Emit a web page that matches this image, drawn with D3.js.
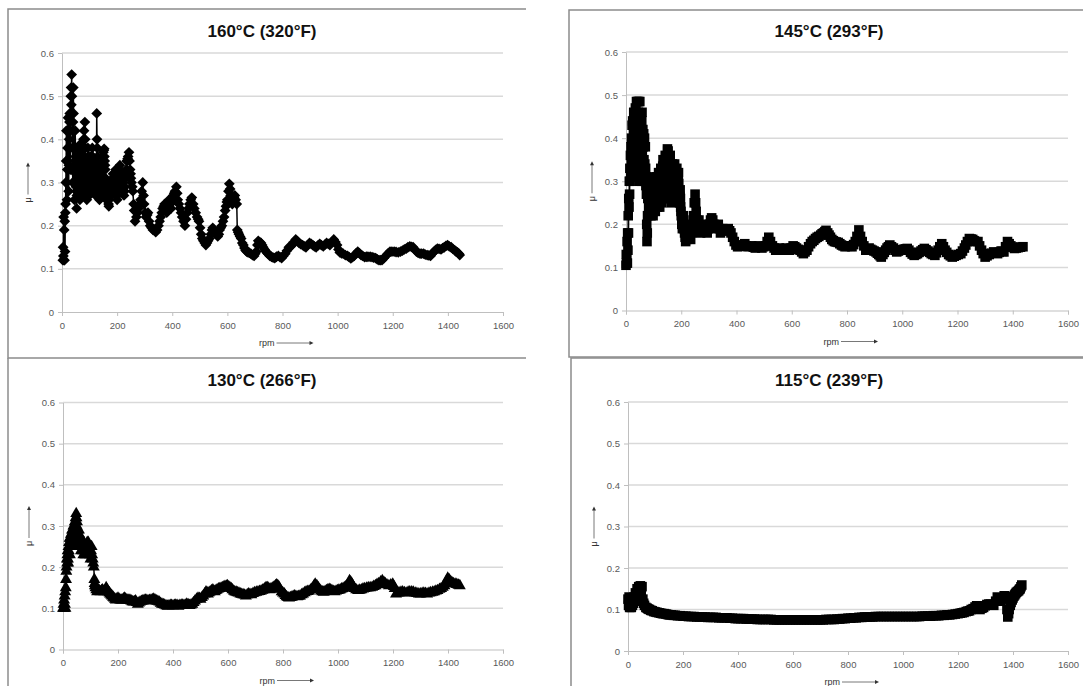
<!DOCTYPE html>
<html>
<head>
<meta charset="utf-8">
<script src="https://cdn.jsdelivr.net/npm/d3@7"></script>
<style>
  body { margin: 0; background: #fff; }
</style>
</head>
<body>
<div id="chart"></div>
<script>
// axis ticks shared by all four panels
const xTicks = [0, 200, 400, 600, 800, 1000, 1200, 1400, 1600];
const yTicks = [0, 0.1, 0.2, 0.3, 0.4, 0.5, 0.6];
const titles = ['160°C (320°F)', '145°C (293°F)', '130°C (266°F)', '115°C (239°F)'];

// [rpm, mu]
const mu160 = [
  [3,0.12],[4,0.15],[5,0.13],[6,0.22],[7,0.12],[8,0.19],[9,0.12],[10,0.21],[11,0.14],[12,0.23],
  [13,0.25],[14,0.30],[15,0.35],[16,0.42],[17,0.30],[18,0.26],[19,0.33],[20,0.38],[21,0.42],[22,0.45],
  [23,0.35],[24,0.28],[25,0.34],[26,0.40],[27,0.44],[28,0.46],[29,0.38],[30,0.33],[31,0.42],[32,0.50],
  [33,0.52],[34,0.48],[35,0.55],[36,0.50],[37,0.46],[38,0.38],[39,0.30],[40,0.44],[41,0.52],[42,0.46],
  [43,0.38],[44,0.30],[45,0.26],[46,0.34],[47,0.38],[48,0.42],[49,0.36],[50,0.32],[51,0.29],[52,0.28],
  [53,0.24],[54,0.27],[55,0.32],[56,0.38],[57,0.35],[58,0.33],[59,0.28],[60,0.31],[61,0.34],[62,0.36],
  [63,0.33],[64,0.30],[65,0.26],[66,0.29],[67,0.33],[68,0.39],[69,0.37],[70,0.35],[71,0.32],[72,0.30],
  [73,0.27],[74,0.34],[75,0.36],[76,0.38],[77,0.31],[78,0.40],[79,0.28],[80,0.42],[81,0.36],[82,0.30],
  [83,0.44],[84,0.40],[85,0.38],[86,0.34],[87,0.32],[88,0.30],[89,0.28],[90,0.26],[91,0.29],[92,0.32],
  [93,0.35],[94,0.38],[95,0.36],[96,0.34],[97,0.32],[98,0.30],[99,0.27],[100,0.33],[101,0.35],[102,0.36],
  [103,0.34],[104,0.32],[105,0.30],[106,0.28],[107,0.31],[108,0.33],[109,0.36],[110,0.38],[111,0.36],[112,0.34],
  [113,0.32],[114,0.31],[115,0.29],[116,0.33],[117,0.34],[118,0.35],[119,0.33],[120,0.31],[121,0.29],[122,0.27],
  [123,0.28],[124,0.30],[125,0.33],[126,0.46],[127,0.40],[128,0.38],[129,0.36],[130,0.34],[131,0.32],[132,0.30],
  [133,0.29],[134,0.28],[135,0.27],[136,0.26],[137,0.28],[138,0.30],[139,0.32],[140,0.34],[141,0.33],[142,0.31],
  [143,0.30],[144,0.29],[145,0.28],[146,0.31],[147,0.33],[148,0.35],[149,0.36],[150,0.37],[152,0.375],[153,0.378],
  [154,0.36],[155,0.35],[156,0.34],[157,0.33],[158,0.31],[159,0.29],[160,0.275],[161,0.26],[162,0.265],[163,0.27],
  [164,0.28],[165,0.29],[166,0.28],[167,0.27],[168,0.26],[169,0.25],[170,0.245],[171,0.26],[172,0.27],[173,0.285],
  [174,0.29],[175,0.30],[177,0.29],[178,0.285],[179,0.28],[180,0.27],[181,0.28],[182,0.29],[183,0.30],[184,0.31],
  [185,0.32],[186,0.31],[187,0.305],[188,0.30],[189,0.29],[190,0.28],[191,0.29],[192,0.30],[193,0.31],[194,0.32],
  [195,0.33],[196,0.31],[197,0.30],[198,0.29],[199,0.27],[200,0.26],[201,0.27],[203,0.28],[204,0.29],[205,0.30],
  [207,0.31],[208,0.32],[209,0.33],[210,0.34],[212,0.32],[213,0.31],[215,0.29],[217,0.30],[218,0.31],[220,0.32],
  [222,0.30],[223,0.29],[225,0.27],[227,0.28],[228,0.29],[230,0.31],[232,0.32],[233,0.33],[235,0.35],[237,0.35],
  [238,0.355],[240,0.36],[243,0.37],[245,0.35],[247,0.33],[249,0.32],[250,0.31],[252,0.30],[255,0.29],[257,0.28],
  [260,0.25],[262,0.235],[265,0.21],[270,0.22],[274,0.23],[278,0.24],[282,0.25],[285,0.26],
  [289,0.28],[293,0.30],[296,0.27],[298,0.25],[302,0.23],[305,0.22],[309,0.225],[312,0.23],[316,0.21],[320,0.20],
  [325,0.195],[330,0.19],[335,0.19],[340,0.185],[345,0.19],[350,0.20],[354,0.21],[358,0.22],[362,0.23],[365,0.24],
  [369,0.245],[372,0.25],[376,0.24],[380,0.23],[384,0.245],[388,0.26],[392,0.25],[396,0.24],[400,0.255],[404,0.27],
  [407,0.275],[410,0.28],[415,0.29],[418,0.275],[420,0.26],[424,0.25],[428,0.24],[432,0.23],[436,0.22],[441,0.21],
  [446,0.20],[450,0.215],[455,0.23],[459,0.24],[462,0.25],[467,0.26],[471,0.265],[476,0.25],[480,0.24],[485,0.23],
  [490,0.22],[494,0.215],[497,0.21],[501,0.195],[505,0.18],[509,0.17],[513,0.165],[518,0.16],[522,0.155],[526,0.16],
  [530,0.165],[535,0.17],[540,0.18],[544,0.19],[547,0.195],[551,0.19],[555,0.185],[560,0.18],[565,0.175],[569,0.18],
  [572,0.19],[576,0.195],[580,0.20],[584,0.21],[588,0.22],[592,0.235],[595,0.245],[598,0.255],[600,0.26],[604,0.28],
  [607,0.297],[610,0.285],[612,0.27],[615,0.26],[618,0.25],[621,0.255],[624,0.265],[627,0.27],[630,0.26],[634,0.25],
  [636,0.19],[639,0.185],[642,0.18],[646,0.175],[650,0.17],[654,0.16],[658,0.155],[662,0.148],[666,0.143],[670,0.14],
  [675,0.138],[680,0.137],[685,0.135],[691,0.132],[697,0.13],[701,0.135],[705,0.14],[709,0.155],[712,0.165],[717,0.162],
  [722,0.16],[726,0.155],[730,0.15],[735,0.145],[740,0.14],[744,0.137],[747,0.135],[754,0.13],[760,0.128],[766,0.126],
  [772,0.125],[778,0.128],[785,0.13],[791,0.127],[797,0.125],[803,0.13],[810,0.135],[816,0.142],[823,0.15],[829,0.152],
  [835,0.155],[841,0.162],[848,0.168],[854,0.164],[860,0.16],[866,0.157],[873,0.155],[879,0.152],[885,0.15],[891,0.155],
  [898,0.16],[904,0.158],[910,0.155],[916,0.152],[922,0.15],[928,0.154],[935,0.158],[941,0.155],[948,0.152],[954,0.156],
  [960,0.16],[966,0.158],[972,0.155],[979,0.162],[986,0.168],[992,0.162],[998,0.155],[1003,0.145],[1008,0.138],[1014,0.136],
  [1020,0.135],[1028,0.132],[1036,0.13],[1042,0.127],[1048,0.124],[1054,0.127],[1060,0.13],[1066,0.135],[1073,0.14],[1079,0.136],
  [1085,0.132],[1091,0.13],[1098,0.127],[1104,0.128],[1110,0.128],[1118,0.128],[1125,0.127],[1131,0.126],[1138,0.125],[1144,0.122],
  [1150,0.12],[1155,0.12],[1161,0.12],[1168,0.125],[1175,0.13],[1182,0.135],[1190,0.14],[1197,0.14],[1205,0.14],[1212,0.139],
  [1220,0.138],[1228,0.14],[1235,0.142],[1242,0.145],[1249,0.147],[1255,0.15],[1262,0.152],[1268,0.151],[1274,0.15],[1280,0.145],
  [1286,0.14],[1292,0.137],[1299,0.135],[1305,0.135],[1312,0.135],[1318,0.133],[1325,0.132],[1331,0.131],[1337,0.13],[1343,0.135],
  [1350,0.14],[1356,0.144],[1362,0.147],[1368,0.146],[1375,0.145],[1381,0.148],[1387,0.15],[1393,0.153],[1399,0.155],[1405,0.152],
  [1412,0.15],[1418,0.146],[1425,0.143],[1430,0.14],[1435,0.138],[1440,0.135],[1443,0.132]
];

const mu145 = [
  [0,0.105],[1,0.13],[2,0.11],[3,0.12],[4,0.16],[5,0.11],[6,0.18],[7,0.14],[8,0.22],[9,0.18],
  [10,0.26],[11,0.24],[12,0.30],[13,0.27],[14,0.33],[15,0.30],[16,0.36],[17,0.32],[18,0.38],[19,0.34],
  [20,0.40],[21,0.36],[22,0.43],[23,0.35],[24,0.44],[25,0.38],[26,0.33],[27,0.42],[28,0.46],[29,0.36],
  [30,0.31],[31,0.44],[32,0.40],[33,0.34],[34,0.47],[35,0.41],[36,0.32],[37,0.45],[38,0.485],[39,0.38],
  [40,0.31],[41,0.44],[42,0.485],[43,0.40],[44,0.33],[45,0.46],[46,0.485],[47,0.37],[48,0.30],[49,0.42],
  [50,0.485],[51,0.39],[52,0.31],[53,0.45],[54,0.40],[55,0.33],[56,0.30],[57,0.44],[58,0.46],[59,0.36],
  [60,0.31],[61,0.42],[62,0.38],[63,0.32],[64,0.41],[65,0.35],[66,0.30],[67,0.40],[68,0.34],[69,0.30],
  [70,0.38],[71,0.33],[72,0.29],[73,0.31],[74,0.27],[75,0.20],[76,0.16],[77,0.18],[78,0.22],[79,0.26],
  [80,0.29],[81,0.265],[82,0.24],[83,0.26],[84,0.28],[85,0.295],[86,0.31],[87,0.28],[88,0.25],[89,0.235],
  [90,0.22],[91,0.25],[92,0.28],[93,0.29],[94,0.30],[95,0.27],[96,0.24],[97,0.23],[98,0.22],[99,0.245],
  [100,0.27],[101,0.285],[102,0.30],[103,0.275],[104,0.25],[105,0.24],[106,0.23],[107,0.26],[108,0.29],[109,0.30],
  [110,0.31],[111,0.285],[112,0.26],[113,0.25],[114,0.24],[115,0.27],[116,0.30],[117,0.31],[118,0.32],[119,0.295],
  [120,0.27],[121,0.255],[122,0.24],[123,0.275],[124,0.31],[125,0.32],[126,0.33],[127,0.305],[128,0.28],[129,0.265],
  [130,0.25],[131,0.285],[132,0.32],[133,0.335],[134,0.35],[135,0.32],[136,0.29],[137,0.275],[138,0.26],[139,0.295],
  [140,0.33],[141,0.345],[142,0.36],[143,0.33],[144,0.30],[145,0.28],[146,0.26],[147,0.30],[148,0.34],[149,0.355],
  [150,0.375],[151,0.37],[152,0.37],[153,0.335],[154,0.30],[155,0.28],[156,0.26],[157,0.295],[158,0.33],[159,0.345],
  [160,0.36],[161,0.325],[162,0.29],[163,0.27],[164,0.25],[165,0.28],[166,0.31],[167,0.325],[168,0.34],[169,0.31],
  [170,0.28],[171,0.27],[172,0.26],[173,0.29],[174,0.32],[175,0.33],[176,0.34],[177,0.315],[178,0.29],[179,0.28],
  [180,0.27],[181,0.29],[182,0.31],[183,0.32],[184,0.33],[185,0.305],[186,0.28],[187,0.29],[188,0.30],[189,0.31],
  [190,0.32],[191,0.295],[192,0.27],[193,0.26],[194,0.25],[195,0.265],[196,0.28],[197,0.26],[198,0.24],[199,0.23],
  [200,0.22],[202,0.20],[204,0.19],[206,0.21],[208,0.22],[210,0.19],[212,0.18],[214,0.17],[216,0.16],[219,0.165],
  [222,0.17],[225,0.19],[228,0.20],[231,0.18],[234,0.165],[237,0.18],[240,0.19],[243,0.21],[245,0.22],[247,0.25],
  [250,0.27],[252,0.25],[254,0.23],[256,0.21],[258,0.19],[261,0.20],[264,0.21],[267,0.195],[270,0.18],[274,0.19],
  [278,0.20],[282,0.195],[286,0.19],[290,0.185],[294,0.18],[298,0.19],[302,0.20],[306,0.21],[310,0.215],[314,0.21],
  [318,0.20],[322,0.195],[326,0.19],[330,0.195],[334,0.20],[338,0.19],[342,0.18],[346,0.185],[350,0.19],[355,0.188],
  [360,0.185],[365,0.188],[370,0.19],[375,0.185],[380,0.18],[386,0.17],[392,0.16],[398,0.152],[404,0.148],[410,0.149],
  [416,0.15],[423,0.152],[430,0.155],[436,0.15],[442,0.148],[448,0.149],[455,0.15],[461,0.147],[468,0.145],[474,0.148],
  [480,0.15],[486,0.147],[492,0.145],[498,0.148],[505,0.15],[511,0.16],[517,0.17],[523,0.16],[530,0.15],[536,0.145],
  [542,0.14],[548,0.143],[555,0.145],[561,0.142],[568,0.14],[574,0.143],[580,0.145],[586,0.142],[592,0.14],[598,0.145],
  [605,0.15],[611,0.148],[617,0.145],[623,0.142],[630,0.14],[636,0.136],[642,0.132],[648,0.136],[655,0.14],[661,0.148],
  [668,0.155],[674,0.16],[680,0.163],[686,0.167],[692,0.17],[698,0.172],[705,0.175],[710,0.178],[715,0.18],[720,0.183],
  [724,0.186],[730,0.18],[735,0.175],[740,0.17],[745,0.165],[750,0.162],[755,0.16],[761,0.159],[768,0.158],[774,0.155],
  [780,0.152],[786,0.15],[793,0.148],[800,0.149],[806,0.15],[812,0.149],[818,0.148],[824,0.153],[830,0.16],[836,0.172],
  [843,0.187],[849,0.172],[855,0.16],[861,0.15],[868,0.14],[874,0.143],[880,0.145],[886,0.142],[892,0.14],[898,0.138],
  [905,0.136],[910,0.133],[915,0.13],[920,0.127],[924,0.124],[930,0.13],[935,0.135],[940,0.14],[945,0.145],[950,0.148],
  [955,0.152],[961,0.148],[968,0.145],[974,0.14],[980,0.136],[986,0.138],[992,0.14],[998,0.141],[1005,0.142],[1011,0.143],
  [1018,0.144],[1024,0.14],[1030,0.135],[1036,0.131],[1043,0.128],[1049,0.13],[1055,0.132],[1061,0.135],[1068,0.138],[1074,0.141],
  [1080,0.144],[1086,0.141],[1093,0.138],[1099,0.135],[1105,0.132],[1111,0.13],[1118,0.128],[1124,0.134],[1130,0.14],[1136,0.148],
  [1143,0.155],[1149,0.148],[1155,0.14],[1161,0.135],[1168,0.13],[1174,0.127],[1181,0.124],[1188,0.126],[1195,0.128],[1203,0.13],
  [1212,0.132],[1218,0.138],[1225,0.145],[1230,0.152],[1236,0.16],[1243,0.167],[1249,0.166],[1255,0.165],[1260,0.162],[1265,0.16],
  [1274,0.16],[1280,0.15],[1287,0.14],[1293,0.132],[1300,0.124],[1307,0.127],[1315,0.13],[1323,0.133],[1331,0.136],[1338,0.134],
  [1345,0.132],[1351,0.135],[1358,0.138],[1363,0.137],[1368,0.136],[1374,0.148],[1381,0.16],[1387,0.155],[1393,0.15],[1400,0.147],
  [1406,0.144],[1413,0.145],[1420,0.146],[1428,0.147],[1437,0.148]
];

const mu130 = [
  [0,0.10],[2,0.11],[3,0.10],[4,0.12],[5,0.10],[6,0.13],[7,0.11],[8,0.14],[9,0.10],[10,0.15],
  [11,0.17],[12,0.19],[13,0.20],[14,0.22],[15,0.21],[16,0.23],[17,0.24],[18,0.22],[19,0.21],[20,0.25],
  [21,0.24],[22,0.26],[23,0.25],[24,0.27],[25,0.23],[26,0.26],[27,0.27],[28,0.25],[29,0.28],[30,0.26],
  [31,0.28],[32,0.27],[33,0.29],[34,0.26],[35,0.29],[36,0.28],[37,0.27],[38,0.30],[39,0.25],[40,0.29],
  [41,0.30],[42,0.28],[43,0.31],[44,0.29],[45,0.31],[46,0.32],[47,0.30],[48,0.33],[49,0.32],[50,0.30],
  [51,0.31],[52,0.27],[53,0.26],[54,0.29],[55,0.28],[56,0.25],[57,0.27],[58,0.29],[59,0.28],[60,0.25],
  [62,0.27],[64,0.26],[65,0.24],[66,0.27],[68,0.26],[70,0.25],[72,0.24],[74,0.23],[76,0.26],[78,0.24],
  [80,0.23],[82,0.25],[84,0.23],[86,0.25],[88,0.26],[90,0.25],[92,0.26],[94,0.24],[96,0.25],[98,0.23],
  [100,0.22],[102,0.24],[104,0.25],[106,0.23],[108,0.22],[110,0.21],[112,0.20],[114,0.17],[115,0.16],[116,0.155],
  [118,0.15],[121,0.145],[124,0.14],[127,0.142],[130,0.145],[133,0.142],[136,0.14],[140,0.143],[143,0.145],[147,0.142],
  [150,0.14],[154,0.145],[157,0.15],[161,0.145],[164,0.14],[168,0.138],[171,0.135],[175,0.132],[178,0.13],[182,0.127],
  [185,0.125],[189,0.122],[192,0.12],[196,0.123],[200,0.125],[204,0.122],[208,0.12],[212,0.12],[216,0.12],[220,0.123],
  [224,0.125],[228,0.122],[232,0.12],[236,0.12],[240,0.12],[244,0.119],[248,0.118],[252,0.116],[256,0.115],[260,0.116],
  [264,0.118],[268,0.114],[272,0.11],[276,0.113],[280,0.115],[285,0.117],[290,0.118],[295,0.119],[300,0.12],[305,0.119],
  [310,0.118],[315,0.119],[320,0.12],[325,0.121],[330,0.122],[335,0.12],[340,0.118],[345,0.117],[350,0.115],[355,0.112],
  [360,0.11],[365,0.109],[370,0.108],[375,0.106],[380,0.105],[385,0.106],[390,0.107],[395,0.107],[400,0.106],[405,0.107],
  [410,0.108],[415,0.107],[420,0.105],[425,0.107],[430,0.108],[435,0.108],[440,0.107],[445,0.108],[450,0.11],[455,0.109],
  [460,0.107],[465,0.108],[470,0.11],[475,0.114],[480,0.118],[486,0.122],[491,0.125],[496,0.124],[500,0.122],[505,0.126],
  [510,0.13],[515,0.135],[520,0.14],[524,0.138],[527,0.135],[531,0.138],[535,0.14],[540,0.143],[545,0.145],[549,0.142],
  [552,0.14],[556,0.143],[560,0.145],[565,0.147],[570,0.148],[575,0.149],[580,0.15],[585,0.152],[589,0.153],[594,0.154],
  [598,0.155],[603,0.152],[607,0.15],[612,0.148],[616,0.145],[621,0.142],[625,0.14],[630,0.139],[635,0.138],[640,0.137],
  [645,0.135],[650,0.134],[655,0.133],[660,0.132],[665,0.13],[670,0.133],[675,0.135],[680,0.134],[685,0.133],[691,0.136],
  [697,0.138],[703,0.139],[709,0.14],[715,0.141],[720,0.142],[725,0.144],[730,0.145],[734,0.148],[738,0.15],[742,0.15],
  [745,0.15],[749,0.147],[752,0.145],[756,0.147],[760,0.148],[764,0.15],[768,0.152],[773,0.155],[777,0.157],[781,0.155],
  [785,0.152],[790,0.146],[795,0.14],[800,0.137],[805,0.135],[809,0.131],[813,0.128],[818,0.126],[822,0.125],[827,0.126],
  [832,0.127],[837,0.129],[842,0.13],[847,0.129],[852,0.128],[857,0.129],[862,0.13],[868,0.133],[873,0.135],[879,0.138],
  [884,0.14],[890,0.141],[895,0.142],[901,0.145],[906,0.148],[912,0.154],[917,0.159],[923,0.155],[928,0.15],[933,0.146],
  [938,0.142],[943,0.14],[948,0.139],[953,0.141],[958,0.143],[963,0.145],[968,0.146],[973,0.145],[978,0.143],[983,0.141],
  [988,0.14],[993,0.142],[998,0.143],[1003,0.144],[1008,0.145],[1013,0.147],[1018,0.148],[1023,0.15],[1028,0.152],[1035,0.158],
  [1042,0.167],[1046,0.164],[1050,0.16],[1055,0.154],[1060,0.148],[1066,0.145],[1073,0.143],[1079,0.144],[1085,0.145],[1091,0.147],
  [1097,0.148],[1104,0.149],[1110,0.15],[1117,0.15],[1124,0.151],[1130,0.153],[1136,0.155],[1142,0.158],[1148,0.16],[1155,0.164],
  [1161,0.167],[1167,0.163],[1172,0.16],[1178,0.157],[1185,0.155],[1192,0.157],[1199,0.159],[1203,0.153],[1206,0.148],[1211,0.135],
  [1217,0.137],[1222,0.138],[1229,0.139],[1235,0.14],[1242,0.138],[1248,0.137],[1255,0.139],[1261,0.14],[1268,0.14],[1274,0.139],
  [1281,0.137],[1287,0.136],[1294,0.135],[1300,0.135],[1306,0.136],[1312,0.137],[1318,0.136],[1324,0.135],[1331,0.137],[1337,0.138],
  [1344,0.139],[1350,0.14],[1356,0.142],[1362,0.143],[1369,0.146],[1375,0.148],[1381,0.151],[1387,0.155],[1393,0.164],[1399,0.173],
  [1405,0.169],[1410,0.165],[1415,0.162],[1420,0.16],[1426,0.159],[1432,0.158],[1438,0.156],[1443,0.155]
];

const mu115 = [
  [0,0.125],[2,0.11],[4,0.13],[6,0.105],[8,0.12],[10,0.115],[12,0.105],[14,0.125],[16,0.11],[18,0.12],
  [20,0.115],[22,0.13],[24,0.12],[27,0.14],[30,0.125],[33,0.15],[36,0.135],[39,0.155],[42,0.13],[45,0.157],
  [48,0.14],[51,0.155],[54,0.125],[57,0.115],[60,0.11],[65,0.105],[70,0.103],[74,0.101],[78,0.10],[83,0.098],
  [88,0.097],[94,0.095],[100,0.094],[106,0.093],[113,0.092],[119,0.091],[125,0.09],[131,0.09],[138,0.089],[144,0.088],
  [150,0.087],[157,0.087],[165,0.086],[172,0.086],[180,0.085],[190,0.085],[200,0.084],[210,0.084],[220,0.083],[230,0.083],
  [240,0.083],[250,0.082],[260,0.082],[270,0.082],[280,0.082],[290,0.081],[300,0.081],[310,0.081],[320,0.081],[330,0.08],
  [340,0.08],[350,0.08],[360,0.08],[370,0.079],[380,0.079],[390,0.078],[400,0.078],[410,0.078],[420,0.078],[430,0.077],
  [440,0.077],[450,0.077],[460,0.077],[470,0.076],[480,0.076],[490,0.076],[500,0.076],[510,0.076],[520,0.076],[530,0.075],
  [540,0.075],[550,0.075],[560,0.075],[570,0.075],[580,0.075],[590,0.075],[600,0.075],[610,0.075],[620,0.075],[630,0.075],
  [640,0.075],[650,0.075],[660,0.075],[670,0.075],[680,0.075],[690,0.075],[700,0.075],[710,0.075],[720,0.076],[730,0.076],
  [740,0.076],[750,0.076],[760,0.077],[770,0.077],[780,0.078],[790,0.078],[800,0.079],[810,0.079],[820,0.08],[830,0.08],
  [840,0.081],[850,0.081],[860,0.082],[870,0.082],[880,0.082],[890,0.082],[900,0.083],[910,0.083],[920,0.083],[930,0.083],
  [940,0.083],[950,0.083],[960,0.083],[970,0.083],[980,0.083],[990,0.083],[1000,0.083],[1010,0.083],[1020,0.083],[1030,0.083],
  [1040,0.083],[1050,0.083],[1060,0.083],[1070,0.084],[1080,0.084],[1090,0.084],[1100,0.084],[1110,0.085],[1120,0.085],[1130,0.085],
  [1140,0.086],[1150,0.086],[1160,0.087],[1170,0.087],[1180,0.088],[1190,0.089],[1200,0.09],[1208,0.091],[1215,0.092],[1222,0.093],
  [1230,0.095],[1236,0.096],[1242,0.097],[1248,0.1],[1255,0.102],[1262,0.106],[1268,0.109],[1274,0.104],[1280,0.10],[1287,0.103],
  [1293,0.105],[1299,0.109],[1305,0.112],[1312,0.113],[1318,0.113],[1324,0.111],[1330,0.11],[1337,0.12],[1343,0.13],[1349,0.125],
  [1355,0.12],[1361,0.127],[1368,0.133],[1372,0.13],[1375,0.125],[1378,0.1],[1381,0.082],[1384,0.09],[1386,0.10],[1390,0.11],
  [1393,0.117],[1397,0.123],[1400,0.128],[1403,0.132],[1406,0.135],[1409,0.138],[1412,0.141],[1416,0.143],[1420,0.145],[1423,0.148],
  [1426,0.15],[1429,0.155],[1432,0.159]
];

const W = 1083, H = 686;
const svg = d3.select('#chart').append('svg')
  .attr('width', W)
  .attr('height', H)
  .style('font-family', '"Liberation Sans", Arial, sans-serif');

svg.append('rect').attr('width', W).attr('height', H).attr('fill', '#fff');

// excel-ish marker shapes
const diamond = d3.symbol(d3.symbolSquare, 58)();
const square = d3.symbol(d3.symbolSquare, 92)();
const triangle = d3.symbol(d3.symbolTriangle, 62)();

const panels = [
  { title: titles[0], data: mu160, shape: diamond, rot: 45, left: 62, right: 503, top: 53, bottom: 312, tx: 262, ty: 37,
    frame: 'M526,9H8V358H526' },
  { title: titles[1], data: mu145, shape: square, rot: 0, left: 626, right: 1068, top: 52, bottom: 310.5, tx: 829, ty: 37,
    frame: 'M1083,10H569V357H1083' },
  { title: titles[2], data: mu130, shape: triangle, rot: 0, left: 63, right: 503, top: 402.5, bottom: 649.5, tx: 262, ty: 386,
    frame: 'M8,358V686' },
  { title: titles[3], data: mu115, shape: square, rot: 0, left: 628, right: 1068, top: 402, bottom: 651, tx: 829, ty: 386,
    frame: 'M1083,358H571V686' }
];

function drawPanel(p) {
  const g = svg.append('g');

  g.append('path')
    .attr('d', p.frame)
    .attr('fill', 'none')
    .attr('stroke', '#8c8c8c')
    .attr('stroke-width', 1.5);

  const x = d3.scaleLinear([0, 1600], [p.left, p.right]);
  const y = d3.scaleLinear([0, 0.6], [p.bottom, p.top]);

  g.append('text')
    .attr('x', p.tx)
    .attr('y', p.ty)
    .attr('text-anchor', 'middle')
    .attr('font-size', 17)
    .attr('font-weight', 'bold')
    .attr('fill', '#111')
    .text(p.title);

  // gridlines
  g.selectAll('line.grid')
    .data(yTicks.filter(d => d > 0))
    .join('line')
      .attr('class', 'grid')
      .attr('x1', p.left)
      .attr('x2', p.right)
      .attr('y1', d => y(d))
      .attr('y2', d => y(d))
      .attr('stroke', '#d9d9d9')
      .attr('stroke-width', 1.5);

  const xa = g.append('g')
    .attr('transform', `translate(0,${p.bottom})`)
    .call(d3.axisBottom(x).tickValues(xTicks).tickSize(4).tickSizeOuter(4).tickPadding(6)
      .tickFormat(d3.format('d')));
  const ya = g.append('g')
    .attr('transform', `translate(${p.left},0)`)
    .call(d3.axisLeft(y).tickValues(yTicks).tickSize(4).tickSizeOuter(0).tickPadding(4)
      .tickFormat(d => d === 0 ? '0' : d.toFixed(1)));
  [xa, ya].forEach(a => {
    a.selectAll('path, line').attr('stroke', '#bfbfbf');
    a.selectAll('text')
      .attr('fill', '#595959')
      .attr('font-size', 9.5)
      .attr('font-family', '"Liberation Sans", Arial, sans-serif');
  });

  // rpm --->
  const cx = (p.left + p.right) / 2;
  const ly = p.bottom + 34;
  g.append('text')
    .attr('x', cx - 8)
    .attr('y', ly)
    .attr('text-anchor', 'end')
    .attr('font-size', 9)
    .attr('fill', '#333')
    .text('rpm');
  g.append('line')
    .attr('x1', cx - 6).attr('x2', cx + 29)
    .attr('y1', ly - 3).attr('y2', ly - 3)
    .attr('stroke', '#555').attr('stroke-width', 0.8);
  g.append('path')
    .attr('d', `M${cx + 31},${ly - 3}l-4,-2v4z`)
    .attr('fill', '#333');

  // mu with arrow pointing up
  const mx = p.left - 34;
  const my = (p.top + p.bottom) / 2;
  g.append('line')
    .attr('x1', mx).attr('x2', mx)
    .attr('y1', my - 18).attr('y2', my + 12)
    .attr('stroke', '#555').attr('stroke-width', 0.8);
  g.append('path')
    .attr('d', `M${mx},${my - 20}l-2,4h4z`)
    .attr('fill', '#333');
  g.append('text')
    .attr('transform', `translate(${mx + 3},${my + 20}) rotate(-90)`)
    .attr('font-size', 9)
    .attr('fill', '#333')
    .text('μ');

  const line = d3.line().x(d => x(d[0])).y(d => y(d[1]));
  g.append('path')
    .datum(p.data)
    .attr('d', line)
    .attr('fill', 'none')
    .attr('stroke', '#000')
    .attr('stroke-width', 1.5);

  g.selectAll('path.mark')
    .data(p.data)
    .join('path')
      .attr('class', 'mark')
      .attr('d', p.shape)
      .attr('transform', d => `translate(${x(d[0])},${y(d[1])}) rotate(${p.rot})`)
      .attr('fill', '#000');
}

panels.forEach(drawPanel);
</script>
</body>
</html>
